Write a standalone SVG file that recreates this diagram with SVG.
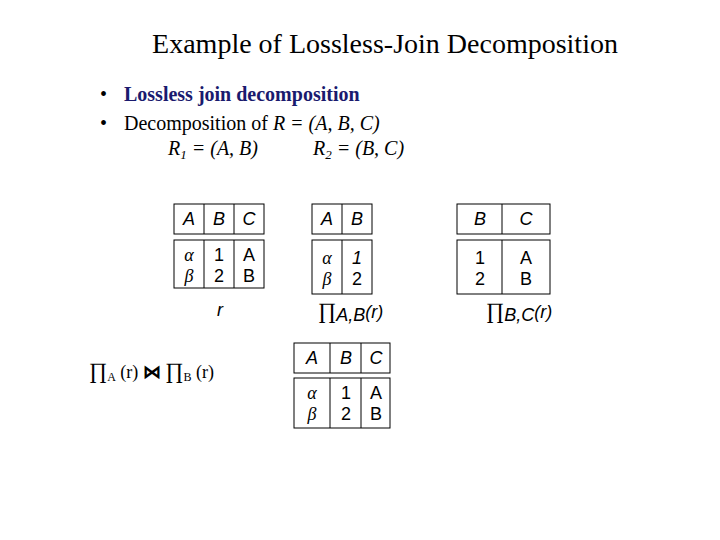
<svg xmlns="http://www.w3.org/2000/svg" width="720" height="540" viewBox="0 0 720 540">
<style>
.s{font-family:"Liberation Serif",serif}
.a{font-family:"Liberation Sans",sans-serif;font-size:18px}
.i{font-style:italic}
.b{fill:none;stroke:#000;stroke-width:1}
.m{text-anchor:middle}
</style>
<rect width="720" height="540" fill="#fff"/>
<text class="s m" x="385" y="53" font-size="28">Example of Lossless-Join Decomposition</text>
<text class="s" x="100" y="101" font-size="20">•</text>
<text class="s" x="124" y="101" font-size="20" font-weight="bold" fill="#1a1a6e">Lossless join decomposition</text>
<text class="s" x="100" y="130" font-size="20">•</text>
<text class="s" x="124" y="130" font-size="20">Decomposition of <tspan class="i">R = (A, B, C)</tspan></text>
<text class="s i" x="168" y="155" font-size="20">R<tspan font-size="13" dy="4">1</tspan><tspan dy="-4"> = (A, B)</tspan></text>
<text class="s i" x="313" y="155" font-size="20">R<tspan font-size="13" dy="4">2</tspan><tspan dy="-4"> = (B, C)</tspan></text>
<g id="r">
<rect class="b" x="174" y="204" width="90" height="30"/><rect class="b" x="174" y="240" width="90" height="48"/>
<path class="b" d="M204 204V234M234 204V234M204 240V288M234 240V288"/>
<text class="a i m" x="189" y="225">A</text><text class="a i m" x="219" y="225">B</text><text class="a i m" x="249" y="225">C</text>
<text class="s i m" x="189" y="261" font-size="18">α</text><text class="s i m" x="189" y="282" font-size="18">β</text>
<text class="a m" x="219" y="261">1</text><text class="a m" x="219" y="282">2</text>
<text class="a m" x="249" y="261">A</text><text class="a m" x="249" y="282">B</text>
<text class="a i m" x="220" y="316">r</text>
</g>
<g id="ab">
<rect class="b" x="312" y="204" width="60" height="30"/><rect class="b" x="312" y="240" width="60" height="54"/>
<path class="b" d="M342 204V234M342 240V294"/>
<text class="a i m" x="327" y="225">A</text><text class="a i m" x="357" y="225">B</text>
<text class="s i m" x="327" y="264" font-size="18">α</text><text class="s i m" x="327" y="285" font-size="18">β</text>
<text class="a i m" x="357" y="264">1</text><text class="a m" x="357" y="285">2</text>
<text x="318" y="318"><tspan class="s" font-size="22">∏</tspan><tspan class="a i" font-size="12" dy="3">A,B</tspan><tspan class="a i" font-size="16" dy="-3">(r)</tspan></text>
</g>
<g id="bc">
<rect class="b" x="457" y="204" width="93" height="30"/><rect class="b" x="457" y="240" width="93" height="54"/>
<path class="b" d="M502 204V234M502 240V294"/>
<text class="a i m" x="480" y="225">B</text><text class="a i m" x="526" y="225">C</text>
<text class="a m" x="480" y="264">1</text><text class="a m" x="480" y="285">2</text>
<text class="a m" x="526" y="264">A</text><text class="a m" x="526" y="285">B</text>
<text x="486" y="318"><tspan class="s" font-size="22">∏</tspan><tspan class="a i" font-size="12" dy="3">B,C</tspan><tspan class="a i" font-size="14" dy="-3">(r)</tspan></text>
</g>
<text x="89" y="378" class="s" font-size="18"><tspan font-size="22">∏</tspan><tspan font-size="12" dy="3">A</tspan><tspan dy="-3"> (r) </tspan><tspan font-weight="bold">⋈</tspan> <tspan font-size="22">∏</tspan><tspan font-size="12" dy="3">B</tspan><tspan dy="-3"> (r)</tspan></text>
<g id="join">
<rect class="b" x="294" y="343" width="96" height="30"/><rect class="b" x="294" y="378" width="96" height="50"/>
<path class="b" d="M330 343V373M361 343V373M330 378V428M361 378V428"/>
<text class="a i m" x="312" y="364">A</text><text class="a i m" x="346" y="364">B</text><text class="a i m" x="376" y="364">C</text>
<text class="s i m" x="312" y="399" font-size="18">α</text><text class="s i m" x="312" y="420" font-size="18">β</text>
<text class="a m" x="346" y="399">1</text><text class="a m" x="346" y="420">2</text>
<text class="a m" x="376" y="399">A</text><text class="a m" x="376" y="420">B</text>
</g>
</svg>
